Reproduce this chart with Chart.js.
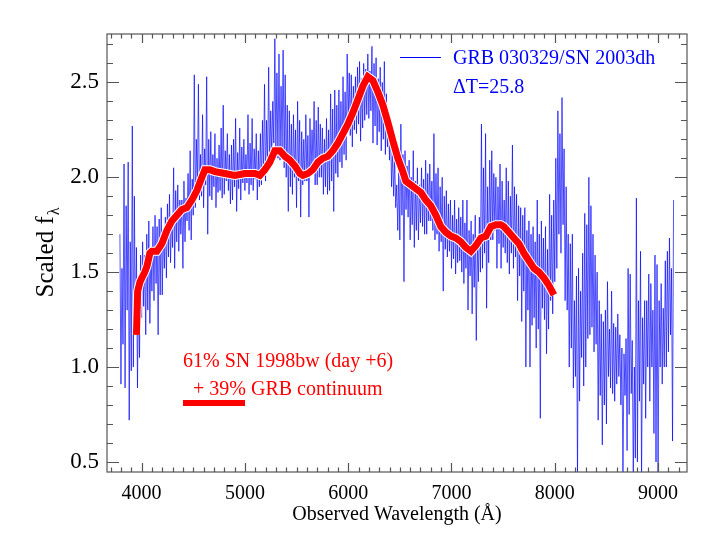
<!DOCTYPE html>
<html><head><meta charset="utf-8">
<script src="https://cdn.jsdelivr.net/npm/chart.js@4/dist/chart.umd.min.js"></script>
<style>html,body{margin:0;padding:0;background:#fff;}canvas{display:block;}</style>
</head><body>
<canvas id="c" width="720" height="540"></canvas>
<script>
// Observed spectrum: regular wavelength grid (Å) and scaled flux
const SPEC_START = 3790;
const SPEC_STEP = 10;
const SPEC_FLUX = [
  1.70,0.91,1.52,1.12,2.07,0.89,1.85,1.30,2.08,0.72,1.66,0.98,2.27,1.00,1.90,1.18,1.63,0.89,1.45,1.05,
  1.59,1.26,1.66,1.32,1.59,1.17,1.70,1.30,1.77,1.23,1.62,1.40,1.74,1.35,1.80,1.44,1.74,1.17,1.78,1.38,
  1.84,1.38,1.72,1.52,1.79,1.47,1.86,1.58,1.91,1.55,1.80,1.63,2.05,1.52,1.93,1.66,1.96,1.61,1.88,1.70,
  1.88,1.52,1.98,1.66,1.89,1.77,2.02,1.72,2.14,1.67,1.99,1.80,2.54,1.84,2.20,1.95,2.49,1.88,2.12,1.90,
  2.33,1.84,2.15,1.96,2.53,1.70,2.20,1.90,2.24,1.88,2.12,1.95,2.23,1.84,2.10,1.92,2.17,1.93,2.26,1.89,
  2.38,1.91,2.14,1.98,2.23,1.93,2.12,1.86,2.17,1.88,2.20,1.95,2.31,1.82,2.13,1.94,2.26,1.88,2.16,1.97,
  2.20,1.93,2.12,1.97,2.33,1.91,2.18,1.96,2.31,1.93,2.15,1.99,2.23,1.88,2.14,1.95,2.23,1.96,2.30,2.02,
  2.49,1.98,2.30,2.08,2.58,2.05,2.35,2.12,2.40,2.18,2.73,2.14,2.55,2.10,2.65,2.09,2.48,2.15,2.67,2.05,
  2.54,2.00,2.38,1.82,2.35,1.95,2.28,1.91,2.33,2.00,2.25,1.84,2.40,1.98,2.30,1.79,2.24,1.96,2.20,1.98,
  2.33,1.98,2.22,1.79,2.31,2.02,2.25,2.05,2.40,1.96,2.30,1.96,2.37,2.00,2.28,2.00,2.26,1.91,2.20,1.95,
  2.31,1.91,2.25,1.93,2.44,1.98,2.36,1.82,2.46,2.02,2.38,2.00,2.46,2.08,2.40,2.05,2.53,2.12,2.45,2.09,
  2.65,2.30,2.55,2.22,2.54,2.16,2.48,2.25,2.53,2.23,2.58,2.28,2.61,2.19,2.52,2.26,2.60,2.30,2.57,2.33,
  2.65,2.31,2.56,2.35,2.69,2.18,2.60,2.27,2.63,2.17,2.52,2.24,2.58,2.14,2.50,2.20,2.61,2.12,2.44,2.16,
  2.33,2.09,2.28,1.95,2.14,1.90,2.10,1.84,1.96,1.72,2.05,1.67,2.28,1.80,2.12,1.45,2.14,1.83,2.06,1.79,
  2.09,1.67,2.00,1.75,2.14,1.63,1.98,1.72,2.05,1.67,1.96,1.76,2.05,1.74,1.99,1.70,2.09,1.70,2.02,1.77,
  2.07,1.77,1.98,1.72,2.23,1.67,2.02,1.70,2.05,1.61,1.95,1.66,2.00,1.40,1.90,1.62,1.93,1.58,1.86,1.61,
  1.88,1.52,1.80,1.57,1.88,1.49,1.78,1.55,1.84,1.56,1.79,1.50,1.88,1.44,1.76,1.52,1.88,1.30,1.72,1.48,
  1.77,1.28,1.70,1.42,1.80,1.14,1.66,1.45,1.79,1.50,2.28,1.52,2.05,1.60,2.23,1.31,1.95,1.55,2.09,1.67,
  2.14,1.67,2.02,1.72,2.00,1.52,1.95,1.65,2.07,1.52,1.98,1.63,1.88,1.60,2.05,1.55,1.98,1.49,1.90,1.60,
  2.17,1.52,1.95,1.58,1.91,1.35,1.85,1.48,1.84,1.24,1.80,1.40,1.84,1.00,1.72,1.30,1.77,1.00,1.70,1.22,
  1.74,1.26,1.66,1.10,1.88,1.20,1.70,0.73,1.77,1.31,1.68,1.25,1.74,1.07,1.62,1.20,1.91,1.35,1.80,1.28,
  1.88,1.45,2.10,1.52,2.35,1.70,2.23,1.60,2.42,1.75,2.15,1.35,1.95,1.30,1.70,1.00,1.65,1.10,1.70,0.89,
  1.35,0.95,1.48,0.40,1.52,0.82,1.40,1.05,1.60,0.90,1.81,1.00,1.75,1.15,2.00,1.17,1.85,1.21,1.70,1.08,
  1.59,1.12,1.50,0.72,1.35,0.85,1.28,0.59,1.24,0.80,1.30,0.70,1.45,0.95,1.20,0.89,1.40,0.86,1.23,0.82,
  1.21,0.91,1.28,0.95,1.17,0.80,1.10,0.40,1.07,0.85,1.15,0.56,1.52,0.75,1.49,0.86,1.14,0.40,1.00,0.52,
  1.89,0.50,1.35,0.82,1.61,0.40,1.26,0.91,1.35,0.73,1.35,1.00,1.49,0.82,1.44,1.00,1.30,0.65,1.59,0.50,
  1.54,0.40,1.35,1.00,1.44,0.91,1.31,1.00,1.56,1.00,1.61,1.08,1.68,1.17,1.52,0.61,1.88
];

// Model: 61% SN 1998bw (day +6) + 39% GRB continuum
const MODEL_WAVE = [3950,3962,3985,4003,4030,4051,4080,4100,4148,4196,4245,4293,4342,4390,4438,4487,4535,4584,4613,4660,
  4710,4806,4903,5000,5097,5145,5194,5242,5290,5339,5387,5436,5484,5532,5561,5610,5658,5707,5755,5803,
  5852,5900,5949,5997,6045,6094,6142,6190,6239,6287,6336,6384,6433,6481,6529,6558,6607,6655,6704,6752,
  6800,6849,6897,6946,6994,7042,7091,7139,7188,7236,7284,7333,7381,7430,7478,7508,7556,7604,7653,7701,
  7750,7798,7847,7895,7943,7992];
const MODEL_FLUX = [1.17,1.40,1.45,1.47,1.50,1.53,1.60,1.61,1.61,1.65,1.72,1.77,1.80,1.83,1.84,1.88,1.93,2.00,2.04,2.04,
  2.03,2.02,2.01,2.02,2.02,2.01,2.04,2.08,2.14,2.14,2.11,2.09,2.06,2.02,2.01,2.02,2.04,2.08,2.10,2.11,
  2.14,2.18,2.23,2.28,2.34,2.41,2.48,2.53,2.51,2.45,2.38,2.29,2.19,2.10,2.03,1.98,1.96,1.94,1.92,1.88,
  1.85,1.80,1.74,1.71,1.69,1.68,1.66,1.63,1.61,1.64,1.68,1.69,1.74,1.75,1.75,1.74,1.71,1.68,1.65,1.60,
  1.56,1.52,1.50,1.47,1.43,1.38];

const X_TICKS = [4000,5000,6000,7000,8000,9000];
const Y_TICKS = [0.5,1.0,1.5,2.0,2.5];
const X_TITLE = 'Observed Wavelength (Å)';
const Y_TITLE = 'Scaled f';
const Y_TITLE_SUB = 'λ';
const SPEC_LABEL = 'GRB 030329/SN 2003dh';
const EPOCH_LABEL = 'ΔT=25.8';
const MODEL_LABEL_1 = '61% SN 1998bw (day +6)';
const MODEL_LABEL_2 = '+ 39% GRB continuum';

const SERIF = 'Liberation Serif';
const specPts = SPEC_FLUX.map((f, i) => ({x: SPEC_START + i * SPEC_STEP, y: f}));
const modelPts = MODEL_WAVE.map((w, i) => ({x: w, y: MODEL_FLUX[i]}));

const framePlugin = {
  id: 'frame',
  afterDatasetsDraw(chart) {
    const {ctx, chartArea: a, scales: {x, y}} = chart;
    ctx.save();
    ctx.strokeStyle = '#555';
    ctx.lineWidth = 1.2;
    ctx.strokeRect(a.left, a.top, a.right - a.left, a.bottom - a.top);
    ctx.beginPath();
    for (let v = Math.ceil(x.min / 100) * 100; v <= x.max; v += 100) {
      const px = Math.round(x.getPixelForValue(v)) + 0.5;
      const len = (v % 1000 === 0) ? 9 : 4.5;
      ctx.moveTo(px, a.bottom); ctx.lineTo(px, a.bottom - len);
      ctx.moveTo(px, a.top); ctx.lineTo(px, a.top + len);
    }
    for (let k = Math.ceil(y.min * 10); k / 10 <= y.max; k++) {
      const py = Math.round(y.getPixelForValue(k / 10)) + 0.5;
      const len = (k % 5 === 0) ? 12 : 6;
      ctx.moveTo(a.left, py); ctx.lineTo(a.left + len, py);
      ctx.moveTo(a.right, py); ctx.lineTo(a.right - len, py);
    }
    ctx.stroke();
    ctx.restore();
  },
  afterDraw(chart) {
    const {ctx} = chart;
    ctx.save();
    // blue legend
    ctx.strokeStyle = '#0000ff'; ctx.lineWidth = 1;
    ctx.beginPath(); ctx.moveTo(400, 57.5); ctx.lineTo(441, 57.5); ctx.stroke();
    ctx.fillStyle = '#0000ff';
    ctx.font = '20px "' + SERIF + '"';
    ctx.textBaseline = 'alphabetic'; ctx.textAlign = 'left';
    ctx.fillText(SPEC_LABEL, 453, 63.5);
    ctx.fillText(EPOCH_LABEL, 453, 92.5);
    // red legend
    ctx.fillStyle = '#ff0000';
    ctx.fillText(MODEL_LABEL_1, 183, 366.5);
    ctx.fillText(MODEL_LABEL_2, 193, 395);
    ctx.fillRect(183, 400, 62, 6);
    // y title with subscript
    ctx.translate(45, 253);
    ctx.rotate(-Math.PI / 2);
    ctx.fillStyle = '#000';
    ctx.font = '25px "' + SERIF + '"';
    const w1 = ctx.measureText(Y_TITLE).width;
    ctx.font = '16px "' + SERIF + '"';
    const w2 = ctx.measureText(Y_TITLE_SUB).width;
    const start = -(w1 + w2) / 2;
    ctx.textBaseline = 'alphabetic';
    ctx.font = '25px "' + SERIF + '"';
    ctx.fillText(Y_TITLE, start, 8);
    ctx.font = '16px "' + SERIF + '"';
    ctx.fillText(Y_TITLE_SUB, start + w1 + 1, 14);
    ctx.restore();
  }
};

new Chart(document.getElementById('c'), {
  type: 'line',
  data: {
    datasets: [
      {label: 'model', data: modelPts, borderColor: '#ff0000', borderWidth: 7, pointRadius: 0, tension: 0, order: 1},
      {label: 'model-outline', data: modelPts, borderColor: '#ffffff', borderWidth: 9, pointRadius: 0, tension: 0, order: 2},
      {label: SPEC_LABEL, data: specPts, borderColor: 'rgba(0,0,255,0.85)', borderWidth: 0.8, pointRadius: 0, tension: 0, order: 3}
    ]
  },
  options: {
    responsive: false,
    animation: false,
    devicePixelRatio: 1,
    layout: {padding: {left: 0, right: 33, top: 34, bottom: 0}},
    plugins: {legend: {display: false}, tooltip: {enabled: false}},
    scales: {
      x: {
        type: 'linear', min: 3665, max: 9280,
        afterBuildTicks: s => { s.ticks = X_TICKS.map(v => ({value: v})); },
        afterFit: s => { s.height = 68; },
        grid: {display: false, drawTicks: false},
        border: {display: false},
        ticks: {padding: 10, color: '#000', font: {family: SERIF, size: 20}, maxRotation: 0, autoSkip: false, callback: v => String(v)},
        title: {display: true, text: X_TITLE, color: '#000', font: {family: SERIF, size: 20}, padding: {top: 0, bottom: 13}}
      },
      y: {
        type: 'linear', min: 0.447, max: 2.755,
        afterBuildTicks: s => { s.ticks = Y_TICKS.map(v => ({value: v})); },
        afterFit: s => { s.width = 107; },
        grid: {display: false, drawTicks: false},
        border: {display: false},
        ticks: {padding: 8, color: '#000', font: {family: SERIF, size: 23}, autoSkip: false, callback: v => Number(v).toFixed(1)}
      }
    }
  },
  plugins: [framePlugin]
});
</script>
</body></html>
